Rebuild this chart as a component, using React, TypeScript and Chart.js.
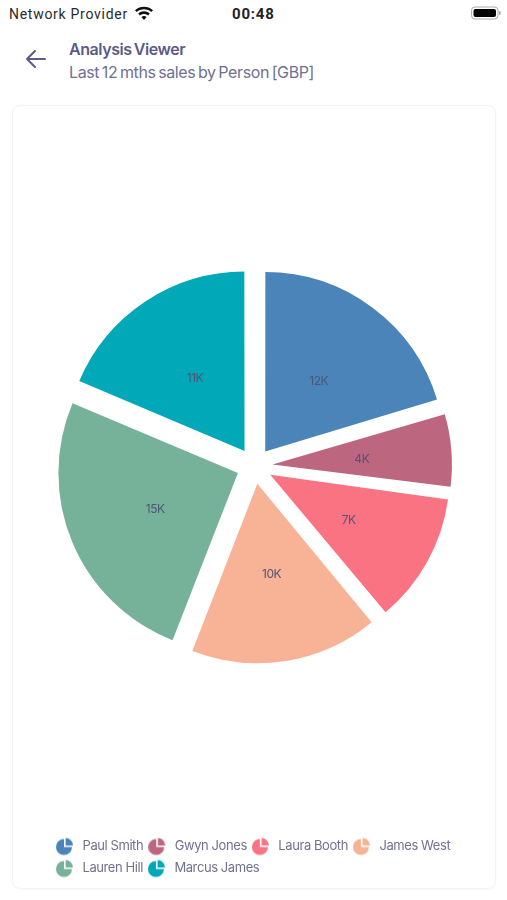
import React, { useEffect, useRef } from "react";
import { Chart, registerables } from "chart.js";

Chart.register(...registerables);

const people = ["Paul Smith", "Gwyn Jones", "Laura Booth", "James West", "Lauren Hill", "Marcus James"];
const sales = [12, 4, 7, 10, 15, 11];
const valueLabels = ["12K", "4K", "7K", "10K", "15K", "11K"];
const colors = ["#4A84B8", "#BC677F", "#FA7383", "#F8B296", "#76B29A", "#00A8B8"];

const FONT = "Inter, 'Noto Sans', sans-serif";
const TEXT_TIGHT = "-0.42px";
const CANVAS_LEFT = 51;
const CANVAS_TOP = 106;
const CENTER_X = 254.5;
const CENTER_Y = 466;
const RADIUS = 179.5;
const OFFSET = 72;

function makeIcon(color: string): HTMLCanvasElement {
  const c = document.createElement("canvas");
  c.width = 24;
  c.height = 20;
  const g = c.getContext("2d")!;
  g.fillStyle = color;
  const cx = 8;
  const cy = 10.5;
  g.beginPath();
  g.moveTo(cx, cy);
  g.arc(cx, cy, 8, 0, 1.5 * Math.PI);
  g.closePath();
  g.fill();
  g.beginPath();
  g.moveTo(cx + 1.6, cy - 1.6);
  g.arc(cx + 1.6, cy - 1.6, 7.4, -0.5 * Math.PI, 0);
  g.closePath();
  g.fill();
  return c;
}

// The library grows narrow offset slices; keep every slice on one circle, and place the pie.
const placeSlices = {
  id: "placeSlices",
  afterDatasetsUpdate(chart: any) {
    chart.getDatasetMeta(0).data.forEach((arc: any) => {
      const fix = 1 - Math.sin(Math.min(Math.PI, arc.circumference));
      arc.outerRadius = RADIUS - (OFFSET / 4) * fix;
      arc.x = CENTER_X - CANVAS_LEFT;
      arc.y = CENTER_Y - CANVAS_TOP;
    });
  },
};

const sliceLabels = {
  id: "sliceLabels",
  afterDatasetsDraw(chart: any) {
    const ctx = chart.ctx;
    const arcs = chart.getDatasetMeta(0).data;
    ctx.save();
    ctx.font = `12px ${FONT}`;
    ctx.fillStyle = "#4f5675";
    ctx.textAlign = "center";
    ctx.textBaseline = "middle";
    arcs.forEach((arc: any, i: number) => {
      const { x, y, startAngle, endAngle } = arc.getProps(["x", "y", "startAngle", "endAngle"]);
      const mid = (startAngle + endAngle) / 2;
      const r = RADIUS * 0.6;
      ctx.fillText(valueLabels[i], x + Math.cos(mid) * r, y + Math.sin(mid) * r + 2);
    });
    ctx.restore();
  },
};

const tightText = {
  id: "tightText",
  beforeUpdate(chart: any) {
    chart.ctx.letterSpacing = TEXT_TIGHT;
  },
  beforeLayout(chart: any) {
    chart.ctx.letterSpacing = TEXT_TIGHT;
  },
  beforeDraw(chart: any) {
    chart.ctx.letterSpacing = TEXT_TIGHT;
  },
};

const abs = (s: React.CSSProperties): React.CSSProperties => ({ position: "absolute", whiteSpace: "nowrap", ...s });

export default function App() {
  const ref = useRef<HTMLCanvasElement>(null);
  useEffect(() => {
    const icons = colors.map(makeIcon);
    const chart = new Chart(ref.current!, {
      type: "pie",
      data: {
        labels: people,
        datasets: [
          {
            data: sales,
            backgroundColor: colors,
            borderWidth: 0,
            offset: OFFSET,
            hoverOffset: 0,
            radius: RADIUS,
          } as any,
        ],
      },
      options: {
        animation: false,
        responsive: false,
        plugins: {
          tooltip: { enabled: false },
          legend: {
            position: "bottom",
            align: "start",
            labels: {
              usePointStyle: true,
              pointStyleWidth: 16,
              padding: 9,
              color: "#70728f",
              font: { family: FONT, size: 13 },
              generateLabels: () =>
                people.map((p, i) => ({
                  text: p,
                  pointStyle: icons[i],
                  fontColor: "#70728f",
                  fillStyle: colors[i],
                  strokeStyle: colors[i],
                  lineWidth: 0,
                  hidden: false,
                  index: i,
                })),
            },
          },
        },
      } as any,
      plugins: [tightText, placeSlices, sliceLabels],
    });
    return () => chart.destroy();
  }, []);

  return (
    <div style={{ position: "absolute", left: 0, top: 0, width: 507, height: 900, background: "#fff", overflow: "hidden", fontFamily: FONT }}>
      <div style={abs({ left: 9, top: 5, fontSize: 14, lineHeight: "18px", color: "#2a2a2a", fontFamily: "Roboto, sans-serif", letterSpacing: 0.72 })}>Network Provider</div>
      <svg style={{ position: "absolute", left: 134, top: 5 }} width="20" height="16" viewBox="0 0 20 16">
        <path d="M1 5.2C6 .6 14 .6 19 5.2l-1.7 1.9C13.2 3.4 6.8 3.4 2.7 7.1z" fill="#111" />
        <path d="M4.2 8.6c3.4-3 8.2-3 11.6 0l-1.7 1.9c-2.4-2-5.8-2-8.2 0z" fill="#111" />
        <path d="M7.4 12c1.6-1.3 3.6-1.3 5.2 0L10 15z" fill="#111" />
      </svg>
      <div style={abs({ left: 232, top: 5, fontSize: 15, lineHeight: "18px", fontWeight: 700, color: "#222", fontFamily: "Roboto, sans-serif", letterSpacing: 0.8 })}>00:48</div>
      <svg style={{ position: "absolute", left: 470, top: 5 }} width="32" height="16" viewBox="0 0 32 16">
        <rect x="1.5" y="2" width="26.5" height="12" rx="3.5" fill="#fff" stroke="#aaa" />
        <rect x="3.5" y="4" width="22.5" height="8" rx="2" fill="#000" />
        <rect x="29" y="6" width="1.6" height="4" rx="0.8" fill="#aaa" />
      </svg>

      <svg style={{ position: "absolute", left: 24, top: 48 }} width="24" height="22" viewBox="0 0 24 22" fill="none" stroke="#5c5b88" strokeWidth="2" strokeLinecap="round" strokeLinejoin="round">
        <path d="M21 11H3M11 3l-8 8 8 8" />
      </svg>
      <div style={abs({ left: 69, top: 39, fontSize: 16, lineHeight: "20px", fontWeight: 600, color: "#5c5b88", letterSpacing: -0.43, wordSpacing: -1.5 })}>Analysis Viewer</div>
      <div style={abs({ left: 69, top: 62, fontSize: 16, lineHeight: "20px", color: "#6f6f92", letterSpacing: -0.38, wordSpacing: -1.5 })}>Last 12 mths sales by Person [GBP]</div>

      <div style={{ position: "absolute", left: 12, top: 105, width: 484, height: 784, boxSizing: "border-box", border: "1px solid #f3f3f5", borderRadius: 8, boxShadow: "0 1px 3px rgba(0,0,0,0.03)" }} />
      <canvas ref={ref} width={430} height={779} style={{ position: "absolute", left: CANVAS_LEFT, top: CANVAS_TOP, width: 430, height: 779 }} />
    </div>
  );
}
